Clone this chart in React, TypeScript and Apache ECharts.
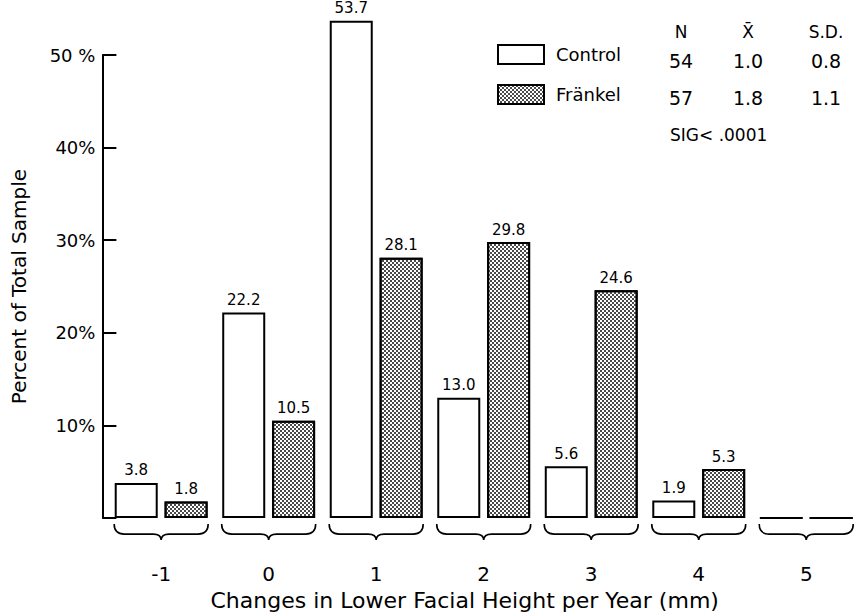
import React, { useEffect, useRef } from "react";
import * as echarts from "echarts";

const categories = ["-1", "0", "1", "2", "3", "4", "5"];
const controlValues = [3.8, 22.2, 53.7, 13.0, 5.6, 1.9, 0];
const frankelValues = [1.8, 10.5, 28.1, 29.8, 24.6, 5.3, 0];
const seriesNames = ["Control", "Fränkel"];
const statHeaders = ["N", "X\u0304", "S.D."];
const controlStats = ["54", "1.0", "0.8"];
const frankelStats = ["57", "1.8", "1.1"];
const sigText = "SIG< .0001";

const FONT = "DejaVu Sans";

export default function App() {
  const ref = useRef<HTMLDivElement>(null);
  useEffect(() => {
    document.body.style.margin = "0";
    if (!ref.current) return;
    const chart = echarts.init(ref.current, undefined, { renderer: "svg" });
    const decal = {
      symbol: "rect",
      symbolSize: 1,
      color: "#4a4a4a",
      dashArrayX: [[2, 2], [0, 2, 2, 0]],
      dashArrayY: [2, 0],
    };
    const barLabel = {
      show: true,
      position: "top",
      distance: 5,
      fontSize: 15,
      fontFamily: FONT,
      color: "#000",
      formatter: (p: any) => (p.value ? Number(p.value).toFixed(1) : ""),
    };
    const statCols = [681, 748, 826];
    const texts: any[] = [];
    const mk = (t: string, x: number, y: number, size = 17) => ({
      type: "text",
      x,
      y,
      style: { text: t, fontSize: size, fontFamily: FONT, fill: "#000", align: "center", verticalAlign: "middle" },
    });
    statHeaders.forEach((t, i) => texts.push(mk(t, statCols[i], 32)));
    controlStats.forEach((t, i) => texts.push(mk(t, statCols[i], 61, 19)));
    frankelStats.forEach((t, i) => texts.push(mk(t, statCols[i], 98, 19)));
    texts.push({
      type: "text",
      x: 670,
      y: 135,
      style: { text: sigText, fontSize: 17, fontFamily: FONT, fill: "#000", align: "left", verticalAlign: "middle" },
    });

    chart.setOption({
      animation: false,
      backgroundColor: "#fff",
      grid: { left: 107.4, right: -11.8, top: 55, bottom: 97 },
      legend: {
        data: seriesNames,
        orient: "vertical",
        left: 497,
        top: 44,
        padding: 0,
        itemWidth: 46,
        itemHeight: 19,
        itemGap: 19,
        icon: "rect",
        textStyle: { fontSize: 18, fontFamily: FONT, color: "#000", padding: [0, 0, 0, 7] },
      },
      xAxis: {
        type: "category",
        data: categories,
        axisLine: { show: false },
        axisTick: { show: false },
        axisLabel: { fontSize: 20, fontFamily: FONT, color: "#000", margin: 46 },
        name: "Changes in Lower Facial Height per Year (mm)",
        nameLocation: "middle",
        nameGap: 70,
        nameTextStyle: { fontSize: 22, fontFamily: FONT, color: "#000", padding: [0, 38, 0, 0] },
      },
      yAxis: {
        type: "value",
        min: 0,
        max: 50,
        interval: 10,
        offset: 5,
        axisLine: { show: true, lineStyle: { color: "#000", width: 2 } },
        axisTick: { show: true, inside: true, length: 14, lineStyle: { color: "#000", width: 2 } },
        splitLine: { show: false },
        axisLabel: {
          fontSize: 18,
          fontFamily: FONT,
          color: "#000",
          margin: 7,
          formatter: (v: number) => (v === 0 ? "" : v === 50 ? "50 %" : v + "%"),
        },
        name: "Percent of Total Sample",
        nameLocation: "middle",
        nameGap: 73,
        nameTextStyle: { fontSize: 20, fontFamily: FONT, color: "#000" },
      },
      series: [
        {
          name: seriesNames[0],
          type: "bar",
          data: controlValues,
          barWidth: 43,
          barGap: "16%",
          clip: false,
          itemStyle: { color: "#fff", borderColor: "#000", borderWidth: 2 },
          label: barLabel,
        },
        {
          name: seriesNames[1],
          type: "bar",
          data: frankelValues,
          barWidth: 43,
          clip: false,
          itemStyle: { color: "#fff", borderColor: "#000", borderWidth: 2, decal },
          label: barLabel,
        },
        {
          type: "custom",
          silent: true,
          data: categories.map((_, i) => [i, 0]),
          encode: { x: 0, y: 1 },
          renderItem: (params: any, api: any) => {
            const idx = api.value(0);
            const pt = api.coord([idx, 0]);
            const cx = pt[0];
            const by = pt[1];
            const half = 47;
            const x0 = cx - half;
            const x1 = cx + half;
            const y0 = by + 6;
            const y1 = by + 16;
            const y2 = by + 22;
            const d =
              `M${x0} ${y0} Q${x0} ${y1} ${x0 + 10} ${y1} L${cx - 8} ${y1} ` +
              `Q${cx} ${y1} ${cx} ${y2} Q${cx} ${y1} ${cx + 8} ${y1} ` +
              `L${x1 - 10} ${y1} Q${x1} ${y1} ${x1} ${y0}`;
            return {
              type: "path",
              shape: { pathData: d },
              style: { stroke: "#000", lineWidth: 1.6, fill: "none" },
            };
          },
        },
      ],
      graphic: texts,
    });
    return () => chart.dispose();
  }, []);
  return <div ref={ref} style={{ width: 860, height: 616 }} />;
}
